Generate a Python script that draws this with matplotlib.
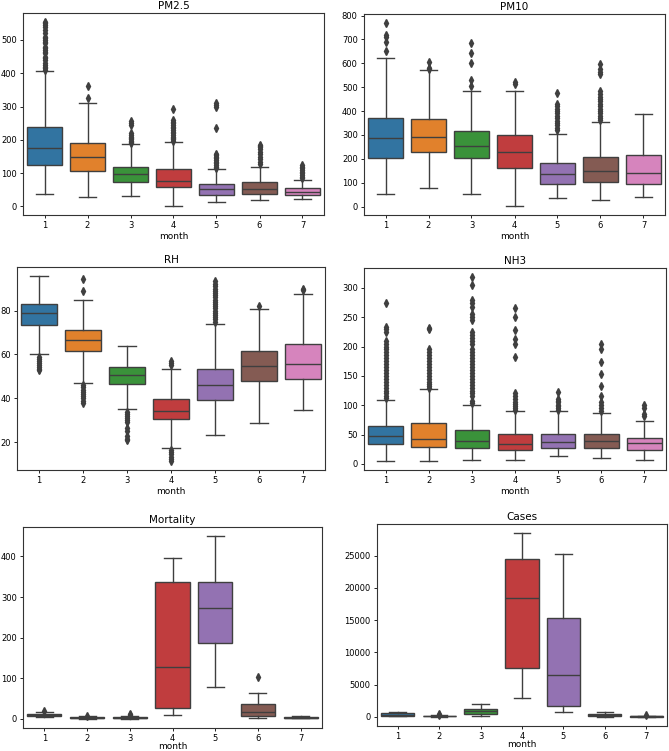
import matplotlib.pyplot as plt

months = ["1", "2", "3", "4", "5", "6", "7"]

# box stats per month: q1, median, q3, whisker low, whisker high, fliers
pm25_q1 = [126, 107, 72, 57, 35, 37, 33]
pm25_med = [175, 150, 97, 78, 51, 51, 43]
pm25_q3 = [238, 192, 118, 114, 67, 72, 56]
pm25_lo = [36, 28, 31, 2, 13, 18, 21]
pm25_hi = [407, 310, 187, 194, 112, 120, 81]
pm25_fliers = [
    [410, 415, 420, 425, 430, 440, 445, 450, 460, 465, 470, 475, 480, 490, 495, 500, 505, 510, 520, 530, 540, 545, 550, 553],
    [325, 362],
    [192, 195, 198, 202, 205, 210, 215, 220, 245, 252, 258],
    [198, 202, 206, 210, 215, 220, 225, 230, 235, 240, 245, 250, 255, 260, 293],
    [116, 120, 125, 130, 135, 140, 145, 150, 155, 158, 235, 300, 305, 310],
    [128, 135, 142, 150, 158, 165, 172, 178, 183, 186],
    [85, 90, 95, 100, 105, 110, 115, 120, 125],
]

pm10_q1 = [202, 230, 202, 162, 96, 103, 96]
pm10_med = [286, 291, 255, 229, 135, 150, 141]
pm10_q3 = [369, 368, 315, 298, 181, 206, 215]
pm10_lo = [53, 78, 53, 3, 36, 26, 39]
pm10_hi = [622, 571, 486, 482, 302, 354, 389]
pm10_fliers = [
    [651, 688, 710, 717, 768],
    [576, 580, 607],
    [505, 528, 600, 643, 683],
    [514, 521],
    [320, 330, 340, 350, 360, 370, 380, 390, 400, 410, 420, 430, 477],
    [362, 370, 380, 390, 400, 410, 420, 430, 440, 450, 460, 470, 485, 555, 565, 575, 598],
    [],
]

rh_q1 = [73.5, 61.6, 46.4, 30.8, 39.3, 48.1, 49.0]
rh_med = [78.9, 66.8, 50.7, 34.3, 46.1, 54.9, 55.5]
rh_q3 = [83.0, 71.2, 54.2, 39.9, 53.6, 61.5, 64.7]
rh_lo = [60.0, 47.0, 35.2, 17.6, 23.5, 28.7, 34.7]
rh_hi = [95.6, 84.7, 63.7, 53.4, 74.1, 80.5, 87.4]
rh_fliers = [
    [52.8, 53.5, 54.2, 55, 56, 57, 58, 59],
    [38, 39, 40, 41, 42, 43, 44, 45, 46, 88.7, 94.6],
    [20.8, 21.5, 23, 25, 26.5, 29, 30, 31, 32, 33, 34],
    [11.5, 12.5, 13.5, 14.5, 15.5, 16.5, 55, 56, 57],
    [75, 76, 77, 78, 79, 80, 81, 82, 83, 84, 85, 86, 87, 88, 89, 90, 91, 92, 93.4],
    [82],
    [89.2, 89.8],
]

nh3_q1 = [34, 29.5, 27.8, 23.8, 27.2, 26.7, 24.4]
nh3_med = [47.6, 42.5, 38.6, 34.6, 37.4, 39.7, 35.2]
nh3_q3 = [64.7, 69.2, 57.8, 50.5, 51.6, 51.6, 44.2]
nh3_lo = [5, 5, 7.4, 7.4, 13, 10.2, 7.4]
nh3_hi = [109, 128, 101, 89.6, 90.7, 87.3, 73.2]
nh3_fliers = [
    [112, 116, 120, 125, 130, 135, 140, 145, 150, 155, 160, 165, 170, 175, 180, 185, 190, 195, 200, 205, 210, 225, 230, 234, 274],
    [130, 133, 136, 140, 145, 150, 155, 160, 165, 170, 175, 180, 185, 190, 195, 230, 232],
    [103, 108, 115, 120, 125, 130, 135, 140, 145, 150, 155, 160, 165, 170, 175, 180, 185, 190, 195, 205, 210, 215, 220, 225, 245, 250, 255, 268, 275, 280, 305, 318],
    [92, 95, 98, 102, 106, 110, 115, 120, 183, 205, 213, 228, 251, 266],
    [92, 95, 98, 101, 105, 108, 110, 123],
    [90, 95, 100, 105, 115, 132, 154, 173, 196, 204],
    [82, 85, 95, 100],
]

mort_q1 = [8, 1, 1, 28, 186, 8, 2]
mort_med = [10, 2, 3, 128, 274, 16, 3]
mort_q3 = [13, 4, 5, 338, 337, 37, 5]
mort_lo = [5, 0, 0, 10, 79, 3, 1]
mort_hi = [17, 6, 8, 396, 450, 64, 6]
mort_fliers = [[20], [8], [9, 11], [], [], [103], []]

cases_q1 = [200, 50, 400, 7625, 1712, 100, 20]
cases_med = [350, 120, 830, 18414, 6536, 300, 60]
cases_q3 = [600, 200, 1140, 24430, 15354, 500, 120]
cases_lo = [50, 0, 200, 2905, 674, 20, 0]
cases_hi = [700, 300, 1970, 28477, 25260, 700, 200]
cases_fliers = [[], [350, 450], [], [], [], [], [300]]

colors = ["#3274A1", "#E1812C", "#3A923A", "#C03D3E", "#9372B2", "#845B53", "#D684BD"]
gray = "#3f3f3f"


def make_stats(q1, med, q3, lo, hi, fliers):
    stats = []
    for i in range(len(q1)):
        stats.append({"q1": q1[i], "med": med[i], "q3": q3[i],
                      "whislo": lo[i], "whishi": hi[i], "fliers": fliers[i]})
    return stats


def draw_box(ax, title, stats, lpad=1):
    pos = list(range(len(stats)))
    bp = ax.bxp(stats, positions=pos, widths=0.8, patch_artist=True,
                boxprops=dict(edgecolor=gray, linewidth=1.0),
                medianprops=dict(color=gray, linewidth=1.0),
                whiskerprops=dict(color=gray, linewidth=1.0),
                capprops=dict(color=gray, linewidth=1.0),
                flierprops=dict(marker="d", markerfacecolor=gray, markeredgecolor=gray,
                                markersize=3.6, linestyle="none"))
    for box, c in zip(bp["boxes"], colors):
        box.set_facecolor(c)
    ax.set_xlim(-0.5, len(stats) - 0.5)
    ax.set_xticks(pos)
    ax.set_xticklabels(months)
    ax.set_title(title, fontsize=7.5, pad=3)
    ax.set_xlabel("month", fontsize=6.5, labelpad=lpad)
    ax.tick_params(labelsize=6, length=2.5, width=0.6, pad=2)
    for s in ax.spines.values():
        s.set_linewidth(0.8)
        s.set_color("#333333")


fig = plt.figure(figsize=(6.69, 7.51), dpi=100)

ax1 = fig.add_axes([23 / 669, 0.7137, 301 / 669, 202 / 751])
ax2 = fig.add_axes([364 / 669, 0.7137, 301 / 669, 201 / 751])
ax3 = fig.add_axes([17 / 669, 0.374, 308 / 669, 203 / 751])
ax4 = fig.add_axes([364 / 669, 0.374, 302 / 669, 202 / 751])
ax5 = fig.add_axes([23 / 669, 0.0306, 299 / 669, 201 / 751])
ax6 = fig.add_axes([377 / 669, 0.0333, 290 / 669, 202 / 751])

draw_box(ax1, "PM2.5", make_stats(pm25_q1, pm25_med, pm25_q3, pm25_lo, pm25_hi, pm25_fliers))
draw_box(ax2, "PM10", make_stats(pm10_q1, pm10_med, pm10_q3, pm10_lo, pm10_hi, pm10_fliers))
draw_box(ax3, "RH", make_stats(rh_q1, rh_med, rh_q3, rh_lo, rh_hi, rh_fliers))
draw_box(ax4, "NH3", make_stats(nh3_q1, nh3_med, nh3_q3, nh3_lo, nh3_hi, nh3_fliers))
draw_box(ax5, "Mortality", make_stats(mort_q1, mort_med, mort_q3, mort_lo, mort_hi, mort_fliers), lpad=-1)
draw_box(ax6, "Cases", make_stats(cases_q1, cases_med, cases_q3, cases_lo, cases_hi, cases_fliers), lpad=-1)

ax1.set_yticks([0, 100, 200, 300, 400, 500])
ax2.set_yticks([0, 100, 200, 300, 400, 500, 600, 700, 800])
ax3.set_yticks([20, 40, 60, 80])
ax4.set_yticks([0, 50, 100, 150, 200, 250, 300])
ax5.set_yticks([0, 100, 200, 300, 400])
ax6.set_yticks([0, 5000, 10000, 15000, 20000, 25000])

fig.savefig("out.png", dpi=100)
